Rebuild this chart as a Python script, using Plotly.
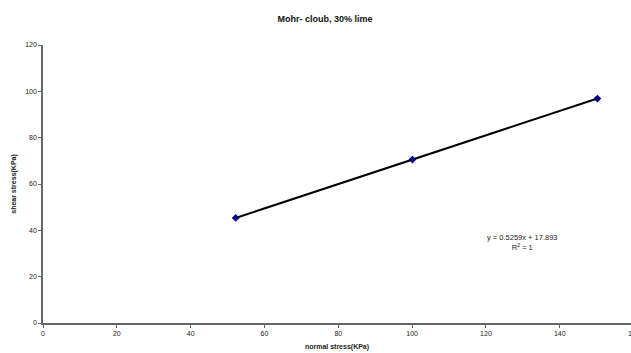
import plotly.graph_objects as go

# Data
normal_stress = [52.2, 100.1, 150.2]
shear_stress = [45.35, 70.54, 96.88]
slope = 0.5259
intercept = 17.893
x_ticks = [0, 20, 40, 60, 80, 100, 120, 140]
y_ticks = [0, 20, 40, 60, 80, 100, 120]

trend_x = [normal_stress[0], normal_stress[-1]]
trend_y = [slope * v + intercept for v in trend_x]

FONT = "Liberation Sans, Arial, sans-serif"
TXT = "#222222"

fig = go.Figure()
fig.add_trace(go.Scatter(
    x=trend_x, y=trend_y, mode="lines",
    line=dict(color="black", width=2), showlegend=False, hoverinfo="skip",
))
fig.add_trace(go.Scatter(
    x=normal_stress, y=shear_stress, mode="markers",
    marker=dict(symbol="diamond", size=6, color="#000080"),
    showlegend=False,
))

W, H = 631, 353
ml, mr, mt, mb = 43, 0, 45, 30
xmax = 159.3

fig.update_layout(
    template="none",
    width=W, height=H,
    margin=dict(l=ml, r=mr, t=mt, b=mb),
    paper_bgcolor="white", plot_bgcolor="white",
    font=dict(family=FONT, size=7, color=TXT),
    title=dict(text="<b>Mohr- cloub, 30% lime</b>", x=0.515, xanchor="center",
               y=1 - 19 / H, yanchor="middle", font=dict(size=9, color="#111")),
    xaxis=dict(range=[0, xmax], tickvals=x_ticks, showgrid=False, zeroline=False,
               showline=True, linecolor="#666", linewidth=1.5,
               ticks="outside", ticklen=3, tickcolor="#666",
               tickfont=dict(size=7, color=TXT), fixedrange=True,
               title=dict(text="<b>normal stress(KPa)</b>", font=dict(size=7, color=TXT), standoff=8)),
    yaxis=dict(range=[0, 120], tickvals=y_ticks, showgrid=False, zeroline=False,
               showline=True, linecolor="#666", linewidth=1.5,
               ticks="outside", ticklen=3, tickcolor="#666",
               tickfont=dict(size=7, color=TXT), fixedrange=True,
               title=dict(text="<b>shear stress(KPa)</b>", font=dict(size=7, color=TXT), standoff=8)),
    annotations=[
        dict(text="y = 0.5259x + 17.893<br>R<sup>2</sup> = 1", xref="paper", yref="paper",
             x=(522 - ml) / (W - ml - mr), y=(H - mb - 242) / (H - mt - mb),
             xanchor="center", yanchor="middle", showarrow=False, align="center",
             font=dict(size=7.5, color=TXT)),
        dict(text="160", xref="paper", yref="paper", x=160 / xmax, y=0,
             xanchor="center", yanchor="top", yshift=-5, showarrow=False,
             font=dict(size=7, color=TXT)),
    ],
)

fig.write_html("out.html", config={"displayModeBar": False},
               post_script="document.body.style.margin='0';document.body.style.overflow='hidden';")
